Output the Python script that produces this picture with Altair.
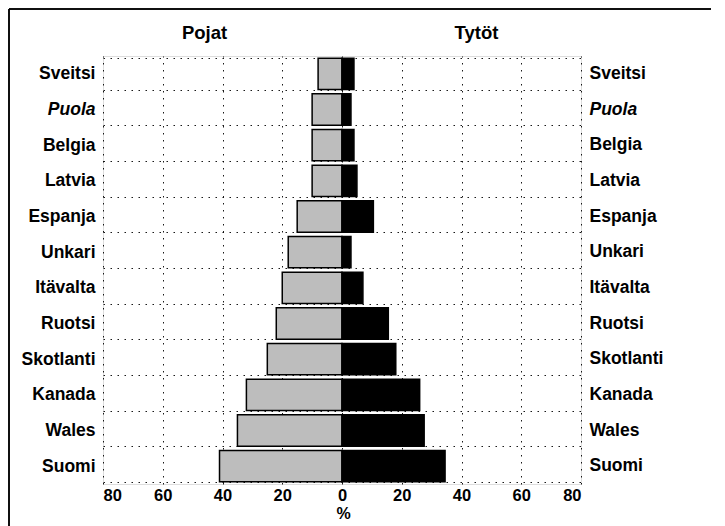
import altair as alt
import pandas as pd

countries = ["Sveitsi", "Puola", "Belgia", "Latvia", "Espanja", "Unkari",
             "Itävalta", "Ruotsi", "Skotlanti", "Kanada", "Wales", "Suomi"]
boys = [8, 10, 10, 10, 15, 18, 20, 22, 25, 32, 35, 41]
girls = [4, 3, 4, 5, 10.5, 3, 7, 15.5, 18, 26, 27.5, 34.5]
x_ticks = [-80, -60, -40, -20, 0, 20, 40, 60, 80]
headers = ["Pojat", "Tytöt"]
header_pos = [-46, 45]
unit_label = ["%"]

FONT = "Liberation Sans"
W, H = 478, 428

df = pd.DataFrame({"maa": countries, "pojat": [-b for b in boys], "tytot": girls})
hdr = pd.DataFrame({"t": headers, "pos": header_pos})
unit_df = pd.DataFrame({"t": unit_label, "pos": [0.5]})

yscale = alt.Scale(domain=countries, paddingInner=0.12, paddingOuter=0.06)
xscale = alt.Scale(domain=[-80, 80], nice=False, zero=False)

label_style = alt.expr("datum.value == 'Puola' ? 'italic' : 'normal'")

xaxis = alt.Axis(values=x_ticks, labelExpr="abs(datum.value)", title=None,
                 grid=True, gridColor="black", gridDash=[1.5, 5.5], gridWidth=1,
                 gridOpacity=0.9, ticks=False, domain=False, labelPadding=3,
                 labelFont=FONT, labelFontSize=16.5, labelFontWeight="bold",
                 labelColor="black")

yaxis_left = alt.Axis(title=None, orient="left", ticks=False, domain=False,
                      grid=True, tickBand="extent", gridColor="black",
                      gridDash=[1.5, 5.5], gridWidth=1, gridOpacity=0.9,
                      labelFont=FONT, labelFontSize=17.5, labelFontWeight="bold",
                      labelFontStyle=label_style, labelColor="black", labelPadding=8)

yaxis_right = alt.Axis(title=None, orient="right", ticks=False, domain=False,
                       grid=False, labelFont=FONT, labelFontSize=17.5,
                       labelFontWeight="bold", labelFontStyle=label_style,
                       labelColor="black", labelPadding=8)

base = alt.Chart(df)

boys_bars = base.mark_bar(color="#bdbdbd", stroke="black", strokeWidth=1.5).encode(
    y=alt.Y("maa:N", scale=yscale, sort=countries, axis=yaxis_left),
    x=alt.X("pojat:Q", scale=xscale, axis=xaxis),
    x2=alt.X2(datum=0),
)

girls_bars = base.mark_bar(color="black", stroke="black", strokeWidth=1.5).encode(
    y=alt.Y("maa:N", scale=yscale, sort=countries, axis=yaxis_right),
    x=alt.X("tytot:Q", scale=xscale),
    x2=alt.X2(datum=0),
)

titles = alt.Chart(hdr).mark_text(font=FONT, fontSize=18.5, fontWeight="bold",
                                  color="black", baseline="middle").encode(
    x=alt.X("pos:Q", scale=xscale),
    y=alt.value(-23),
    text="t:N",
)

unit = alt.Chart(unit_df).mark_text(font=FONT, fontSize=16, fontWeight="bold",
                                    color="black", baseline="middle").encode(
    x=alt.X("pos:Q", scale=xscale),
    y=alt.value(H + 30),
    text="t:N",
)

frame_top = alt.Chart(hdr).mark_rule(color="black", strokeWidth=1.5).encode(
    x=alt.value(-94), x2=alt.value(W + 200), y=alt.value(-47))
frame_left = alt.Chart(hdr).mark_rule(color="black", strokeWidth=1.5).encode(
    x=alt.value(-94), y=alt.value(-47), y2=alt.value(H + 200))

chart = alt.layer(boys_bars, girls_bars, titles, unit, frame_top, frame_left).resolve_axis(
    y="independent"
).properties(
    width=W, height=H,
    padding={"left": 95, "top": 48, "right": 130, "bottom": 42},
    autosize=alt.AutoSizeParams(type="none"),
).configure_view(stroke="black", strokeWidth=1.5).configure(background="white")

chart.save("out.html", embed_options={"renderer": "svg", "actions": False})
